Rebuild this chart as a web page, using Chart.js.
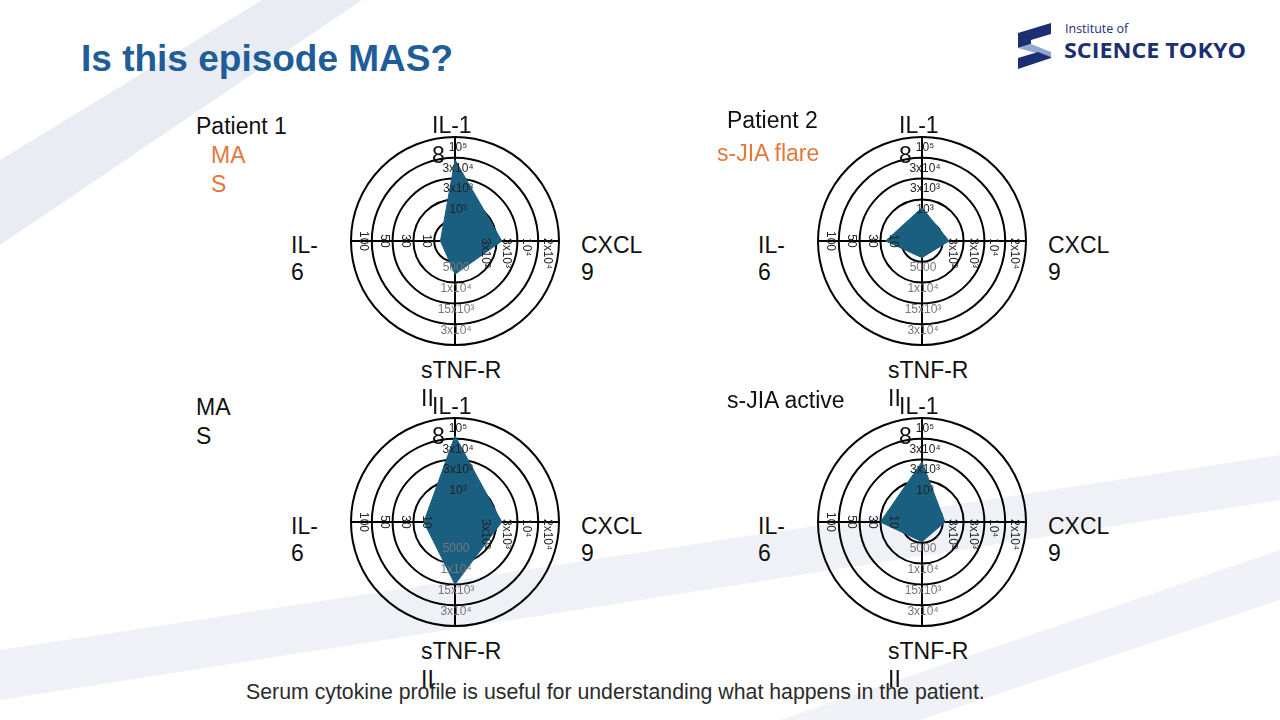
<!DOCTYPE html>
<html>
<head>
<meta charset="utf-8">
<script src="https://cdn.jsdelivr.net/npm/chart.js@4.4.1/dist/chart.umd.min.js"></script>
<style>
  html, body { margin:0; padding:0; }
  body { width:1280px; height:720px; position:relative; overflow:hidden; background:#fff;
         font-family:"Liberation Sans", Arial, sans-serif; }
  #bg { position:absolute; left:0; top:0; z-index:0; }
  .cv { position:absolute; z-index:1; }
  .txt { position:absolute; z-index:2; white-space:nowrap; line-height:1; }
  .title { left:81px; top:40px; font-size:37px; font-weight:bold; color:#1f5d98; }
  .caption { left:246px; top:682px; font-size:21.3px; color:#2b2b2b; }
  .lab { font-size:23px; color:#111; }
  .orange { color:#e2783a; }
</style>
</head>
<body>
<svg id="bg" width="1280" height="720">
  <polygon points="0,160 262,0 362,0 0,245" fill="#e9ecf3"/>
  <polygon points="0,650 1280,455 1280,500 0,700" fill="#eff1f6"/>
  <polygon points="780,720 1280,550 1280,600 920,720" fill="#f0f2f7"/>
  <!-- logo -->
  <path d="M1018,33 L1051,23 L1051,34 L1031,40 L1031,44 L1018,48 Z" fill="#1c2f73"/>
  <path d="M1018,48 L1031,44 L1051,52 L1051,57 Z" fill="#8fa6cf"/>
  <path d="M1018,58 L1038,52 L1051,57 L1051,58 L1018,69 Z" fill="#1c2f73"/>
  <text x="1065" y="33" font-family="Open Sans, sans-serif" font-size="12.5" fill="#1c2f73">Institute of</text>
  <text x="1064" y="58" font-family="Open Sans, sans-serif" font-size="22" font-weight="bold" fill="#1c2f73" textLength="182" lengthAdjust="spacingAndGlyphs">SCIENCE TOKYO</text>
</svg>

<div class="txt title">Is this episode MAS?</div>
<div class="txt caption">Serum cytokine profile is useful for understanding what happens in the patient.</div>

<div class="txt lab" style="left:196px;top:115px">Patient 1</div>
<div class="txt lab orange" style="left:211px;top:144px">MA</div>
<div class="txt lab orange" style="left:211px;top:173px">S</div>
<div class="txt lab" style="left:727px;top:109px">Patient 2</div>
<div class="txt lab orange" style="left:717px;top:142px">s-JIA flare</div>
<div class="txt lab" style="left:196px;top:396px">MA</div>
<div class="txt lab" style="left:196px;top:425px">S</div>
<div class="txt lab" style="left:727px;top:389px">s-JIA active</div>

<canvas id="c1" class="cv" width="220" height="220" style="left:345px;top:131px"></canvas>
<canvas id="c2" class="cv" width="220" height="220" style="left:812px;top:131px"></canvas>
<canvas id="c3" class="cv" width="220" height="220" style="left:345px;top:412px"></canvas>
<canvas id="c4" class="cv" width="220" height="220" style="left:812px;top:412px"></canvas>

<script>
// ---- data ----
const categories = ['IL-18', 'CXCL9', 'sTNF-RII', 'IL-6'];
// wrapped category text as it appears in the slide
const categoryLines = [['IL-1', '8'], ['CXCL', '9'], ['sTNF-R', 'II'], ['IL-', '6']];

// per-axis tick labels (rings 1..4)
const il18Ticks  = ['10\u00B3', '3x10\u00B3', '3x10\u2074', '10\u2075'];
const cxcl9Ticks = ['3x10\u00B2', '3x10\u00B3', '10\u2074', '2x10\u2074'];
const stnfTicks  = ['5000', '1x10\u2074', '15x10\u00B3', '3x10\u2074'];
const il6Ticks   = ['10', '30', '50', '100'];
const ringValues = [1, 2, 3, 4];

// series values in ring units (order: IL-18, CXCL9, sTNF-RII, IL-6)
const patient1MAS     = [3.9, 2.25, 1.6, 0.7];
const patient2Flare   = [1.6, 1.3, 0.8, 1.75];
const masEpisode      = [4.15, 2.25, 3.0, 1.5];
const sjiaActive      = [2.9, 1.1, 0.95, 2.0];

// ---- plugin: per-axis tick labels drawn from the scale geometry ----
const axisTickPlugin = {
  id: 'axisTicks',
  afterDraw(chart) {
    const s = chart.scales.r;
    const ctx = chart.ctx;
    const sets = [il18Ticks, cxcl9Ticks, stnfTicks, il6Ticks];
    const offs = [0.5, 0.45, 0.3, 0.4];
    ctx.save();
    ctx.font = '12px "Liberation Sans", Arial, sans-serif';
    sets.forEach((labels, i) => {
      labels.forEach((t, k) => {
        const d = s.getDistanceFromCenterForValue(ringValues[k] + offs[i]);
        const p = s.getPointPosition(i, d);
        ctx.save();
        if (i === 0) {
          ctx.fillStyle = '#222'; ctx.textAlign = 'center'; ctx.textBaseline = 'middle';
          ctx.fillText(t, p.x + 3, p.y);
        } else if (i === 2) {
          ctx.fillStyle = '#777'; ctx.textAlign = 'center'; ctx.textBaseline = 'middle';
          ctx.fillText(t, p.x + 1, p.y);
        } else if (i === 1) {
          ctx.fillStyle = '#222'; ctx.translate(p.x, p.y - 3); ctx.rotate(Math.PI / 2);
          ctx.textAlign = 'left'; ctx.textBaseline = 'middle';
          ctx.fillText(t, 0, 0);
        } else {
          ctx.fillStyle = '#222'; ctx.translate(p.x, p.y); ctx.rotate(Math.PI / 2);
          ctx.textAlign = 'center'; ctx.textBaseline = 'middle';
          ctx.fillText(t, 0, 0);
        }
        ctx.restore();
      });
    });
    ctx.restore();
  }
};

// category label placement relative to chart centre: [dx, dyFirstLine, lineGap]
const labelAnchors = [[-23, -116, 30], [126, 4, 27], [-34, 129, 28], [-164, 4, 27]];

function makeRadar(id, values) {
  const canvas = document.getElementById(id);
  const chart = new Chart(canvas, {
    type: 'radar',
    data: {
      labels: categories,
      datasets: [{
        data: values,
        backgroundColor: 'rgb(26,94,128)',
        borderColor: 'rgb(26,94,128)',
        borderWidth: 1,
        pointRadius: 0,
        fill: true
      }]
    },
    options: {
      responsive: false,
      animation: false,
      layout: { padding: 6 },
      plugins: { legend: { display: false }, tooltip: { enabled: false } },
      elements: { line: { tension: 0 } },
      scales: {
        r: {
          min: 0, max: 5, z: 1,
          ticks: { display: false, stepSize: 1 },
          pointLabels: { display: false },
          grid: { circular: true, color: '#000', lineWidth: 2 },
          angleLines: { display: true, color: '#000', lineWidth: 2 }
        }
      }
    },
    plugins: [axisTickPlugin]
  });
  // HTML category labels placed from the scale centre
  const s = chart.scales.r;
  const left = parseFloat(canvas.style.left), top = parseFloat(canvas.style.top);
  const cx = left + s.xCenter, cy = top + s.yCenter;
  categoryLines.forEach((lines, i) => {
    const [dx, dy, gap] = labelAnchors[i];
    lines.forEach((ln, j) => {
      const el = document.createElement('div');
      el.className = 'txt lab';
      el.textContent = ln;
      el.style.left = (cx + dx) + 'px';
      el.style.top = (cy + dy + j * gap - 11) + 'px';
      document.body.appendChild(el);
    });
  });
}

makeRadar('c1', patient1MAS);
makeRadar('c2', patient2Flare);
makeRadar('c3', masEpisode);
makeRadar('c4', sjiaActive);
</script>
</body>
</html>
